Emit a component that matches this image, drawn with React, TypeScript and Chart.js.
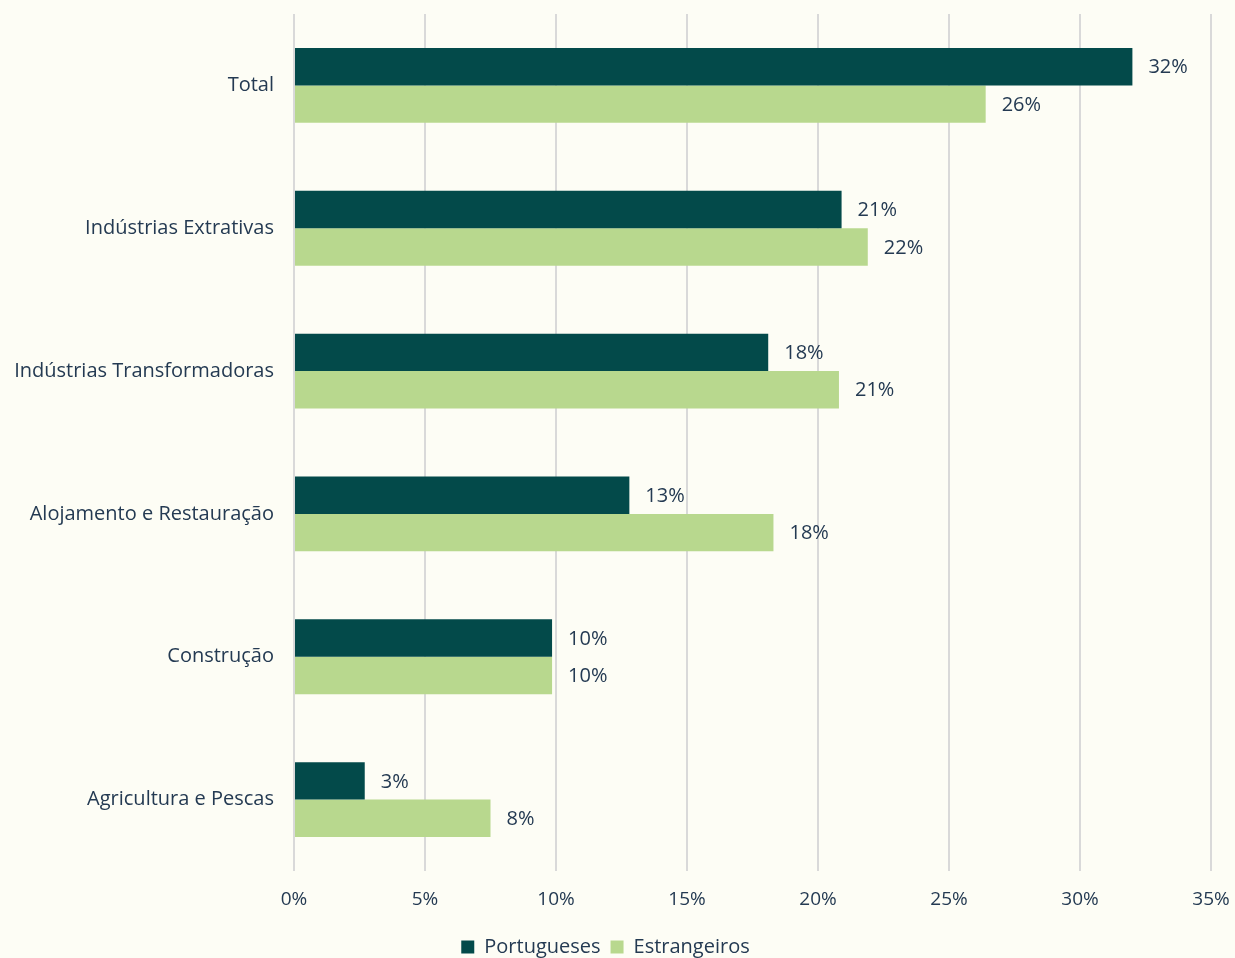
import React, { useEffect, useRef } from "react";
import { Chart, registerables } from "chart.js";

Chart.register(...registerables);

const categories = [
  "Total",
  "Indústrias Extrativas",
  "Indústrias Transformadoras",
  "Alojamento e Restauração",
  "Construção",
  "Agricultura e Pescas",
];
const portugueses = [32.0, 20.9, 18.1, 12.8, 9.85, 2.7];
const estrangeiros = [26.4, 21.9, 20.8, 18.3, 9.85, 7.5];
const xTicks = [0, 5, 10, 15, 20, 25, 30, 35];

const TEXT = "#243a52";
const FONT = "'Open Sans', sans-serif";

const valueLabels = {
  id: "valueLabels",
  afterDatasetsDraw(chart: any) {
    const ctx = chart.ctx;
    ctx.save();
    ctx.font = `20px ${FONT}`;
    ctx.fillStyle = TEXT;
    ctx.textAlign = "left";
    ctx.textBaseline = "middle";
    chart.data.datasets.forEach((ds: any, i: number) => {
      const meta = chart.getDatasetMeta(i);
      meta.data.forEach((bar: any, j: number) => {
        const v = ds.data[j];
        ctx.fillText(`${Math.round(v)}%`, bar.x + 16, bar.y + 1);
      });
    });
    ctx.restore();
  },
};

export default function App() {
  const ref = useRef<HTMLCanvasElement>(null);
  useEffect(() => {
    if (!ref.current) return;
    const chart = new Chart(ref.current, {
      type: "bar",
      data: {
        labels: categories,
        datasets: [
          {
            label: "Portugueses",
            data: portugueses,
            backgroundColor: "#034a4a",
            categoryPercentage: 0.524,
            barPercentage: 1,
          },
          {
            label: "Estrangeiros",
            data: estrangeiros,
            backgroundColor: "#b8d88e",
            categoryPercentage: 0.524,
            barPercentage: 1,
          },
        ],
      },
      options: {
        indexAxis: "y",
        animation: false,
        responsive: false,
        maintainAspectRatio: false,
        layout: { padding: { top: 14, right: 24, left: 0, bottom: 0 } },
        scales: {
          x: {
            min: 0,
            max: 35,
            afterBuildTicks: (scale: any) => {
              scale.ticks = xTicks.map((v) => ({ value: v }));
            },
            afterFit: (scale: any) => {
              scale.height = 56;
              scale.paddingLeft = 0;
              scale.paddingRight = 0;
              scale.paddingTop = 0;
              scale.paddingBottom = 0;
            },
            grid: { color: "#d9d9d9", lineWidth: 2, drawTicks: false },
            border: { display: false },
            ticks: {
              padding: 17,
              color: TEXT,
              font: { family: FONT, size: 19 },
              maxRotation: 0,
              callback: (v: any) => `${v}%`,
            },
          },
          y: {
            afterFit: (scale: any) => {
              scale.width = 294;
              scale.paddingTop = 0;
              scale.paddingBottom = 0;
              scale.paddingLeft = 0;
              scale.paddingRight = 0;
            },
            grid: { display: false, drawTicks: false },
            border: { display: false },
            ticks: {
              padding: 20,
              color: TEXT,
              font: { family: FONT, size: 20 },
            },
          },
        },
        plugins: {
          legend: {
            position: "bottom",
            labels: {
              boxWidth: 13,
              boxHeight: 13,
              padding: 10,
              color: TEXT,
              font: { family: FONT, size: 20 },
            },
          },
          tooltip: { enabled: false },
        },
      },
      plugins: [valueLabels],
    } as any);
    return () => chart.destroy();
  }, []);
  return (
    <div
      style={{
        position: "fixed",
        left: 0,
        top: 0,
        width: 1235,
        height: 958,
        overflow: "hidden",
        background: "#fdfdf5",
      }}
    >
      <canvas ref={ref} width={1235} height={967} style={{ display: "block" }} />
    </div>
  );
}
